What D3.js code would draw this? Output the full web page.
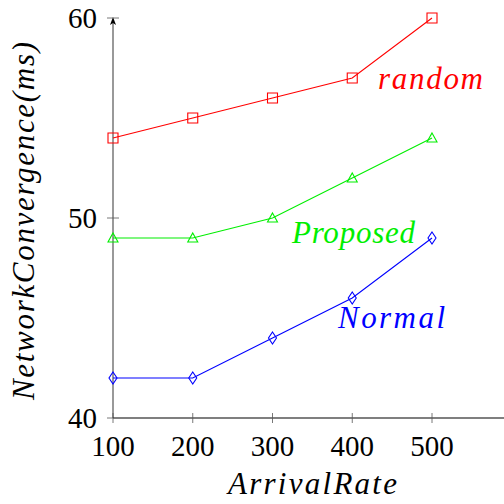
<!DOCTYPE html>
<html><head><meta charset="utf-8">
<script src="https://cdn.jsdelivr.net/npm/d3@7"></script>
<style>body{margin:0;background:#fff}svg{display:block}</style>
</head><body>
<svg id="c" width="504" height="504"></svg>
<script>
const arrivalRates = [100, 200, 300, 400, 500];
const randomVals = [54, 55, 56, 57, 60];
const proposedVals = [49, 49, 50, 52, 54];
const normalVals = [42, 42, 44, 46, 49];
const xTicks = [100, 200, 300, 400, 500];
const yTicks = [40, 50, 60];

const svg = d3.select("#c");
const x = d3.scaleLinear().domain([100, 500]).range([113, 432]);
const y = d3.scaleLinear().domain([40, 60]).range([418, 18]);
const font = "'Liberation Serif', serif";

// axes
svg.append("line").attr("x1", 113).attr("x2", 113).attr("y1", 418).attr("y2", 20)
  .attr("stroke", "#555").attr("stroke-width", 1.2);
svg.append("path").attr("d", "M113,17 L110,25 L113,23 L116,25 Z").attr("fill", "#000");
svg.append("line").attr("x1", 113).attr("x2", 510).attr("y1", 418).attr("y2", 418)
  .attr("stroke", "#000").attr("stroke-width", 1.2);

const xg = svg.append("g");
xg.selectAll("line").data(xTicks).join("line")
  .attr("x1", d => x(d)).attr("x2", d => x(d)).attr("y1", 413).attr("y2", 423)
  .attr("stroke", "#555").attr("stroke-width", 0.8);
xg.selectAll("text").data(xTicks).join("text")
  .attr("x", d => x(d)).attr("y", 456).attr("text-anchor", "middle")
  .attr("font-family", font).attr("font-size", 29).text(d => d);

const yg = svg.append("g");
yg.selectAll("line").data(yTicks).join("line")
  .attr("x1", 107).attr("x2", d => d === 40 ? 113 : 119).attr("y1", d => y(d)).attr("y2", d => y(d))
  .attr("stroke", "#555").attr("stroke-width", 0.8);
yg.selectAll("text").data(yTicks).join("text")
  .attr("x", 97).attr("y", d => y(d) + 10).attr("text-anchor", "end")
  .attr("font-family", font).attr("font-size", 29).text(d => d);

function mathText(tx, ty, rot, str, size, len, color) {
  svg.append("text").attr("transform", `translate(${tx},${ty}) rotate(${rot})`)
    .attr("font-family", font).attr("font-style", "italic").attr("font-size", size)
    .attr("textLength", len).attr("lengthAdjust", "spacing")
    .attr("fill", color).text(str);
}

mathText(228, 494, 0, "ArrivalRate", 31, 169, "#000");
mathText(34, 400, -90, "NetworkConvergence(ms)", 31, 358, "#000");

const line = d3.line().x((d, i) => x(arrivalRates[i])).y(d => y(d));
const series = [
  {vals: randomVals, color: "#ff0000", marker: "square", label: "random", lx: 378, ly: 89, w: 105},
  {vals: proposedVals, color: "#00ee00", marker: "triangle", label: "Proposed", lx: 292, ly: 243, w: 123},
  {vals: normalVals, color: "#0000ff", marker: "diamond", label: "Normal", lx: 338, ly: 328, w: 107}
];
const markerPath = {
  square: "M-5,-5 L5,-5 L5,5 L-5,5 Z",
  triangle: "M0,-5 L5,4 L-5,4 Z",
  diamond: "M0,-6 L4,0 L0,6 L-4,0 Z"
};
series.forEach(s => {
  svg.append("path").datum(s.vals).attr("d", line).attr("fill", "none")
    .attr("stroke", s.color).attr("stroke-width", 1.1);
  svg.append("g").selectAll("path").data(s.vals).join("path")
    .attr("transform", (d, i) => `translate(${x(arrivalRates[i])},${y(d)})`)
    .attr("d", markerPath[s.marker]).attr("fill", "none")
    .attr("stroke", s.color).attr("stroke-width", 1.1);
  mathText(s.lx, s.ly, 0, s.label, 31, s.w, s.color);
});
</script>
</body></html>
